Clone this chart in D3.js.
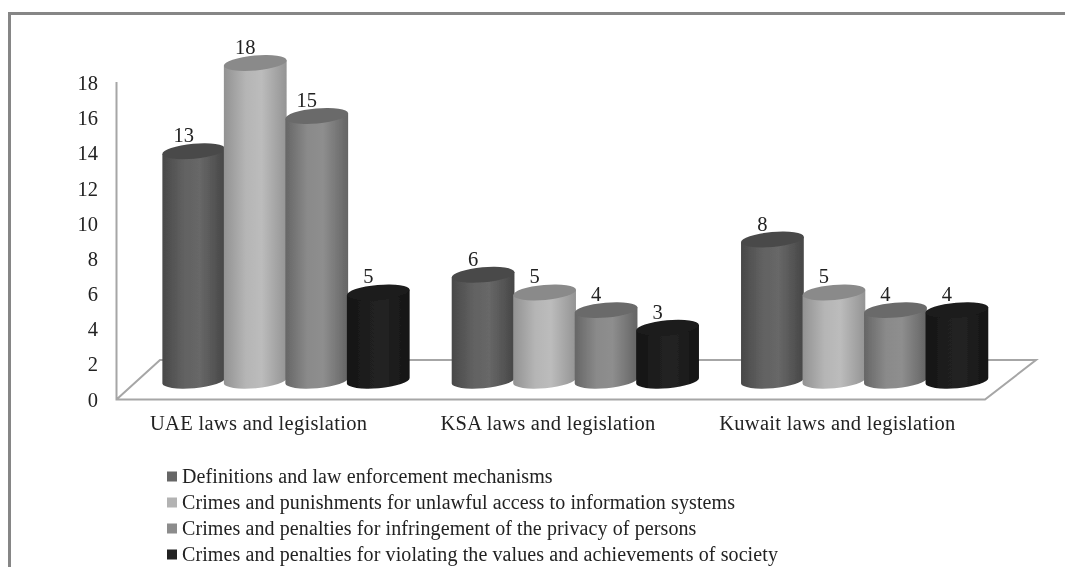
<!DOCTYPE html>
<html><head><meta charset="utf-8">
<script src="https://cdn.jsdelivr.net/npm/d3@7"></script>
<style>html,body{margin:0;padding:0;background:#fff}svg{display:block}text{font-family:"Liberation Serif",serif;fill:#222}</style>
</head><body><svg id="c" width="1065" height="567"></svg>
<script>
const categories=["UAE laws and legislation","KSA laws and legislation","Kuwait laws and legislation"];
const seriesNames=["Definitions and law enforcement mechanisms","Crimes and punishments for unlawful access to information systems","Crimes and penalties for infringement of the privacy of persons","Crimes and penalties for violating the values and achievements of society"];
const definitions=[13,6,8];
const unlawfulAccess=[18,5,5];
const privacy=[15,4,4];
const values=[5,3,4];
const series=[definitions,unlawfulAccess,privacy,values];
const tickValues=[0,2,4,6,8,10,12,14,16,18];
const shades=[
 {side:["#484848","#626262","#676767","#464646"],top:"#4a4a4a",key:"#666666"},
 {side:["#929292","#b5b5b5","#bcbcbc","#949494"],top:"#8a8a8a",key:"#b3b3b3"},
 {side:["#666666","#8a8a8a","#8e8e8e","#646464"],top:"#6a6a6a",key:"#8c8c8c"},
 {side:["#131313","#1f1f1f","#222222","#141414"],top:"#1b1b1b",key:"#222222"}];

const svg=d3.select("#c");
const defs=svg.append("defs");
defs.append("filter").attr("id","soft").attr("filterUnits","userSpaceOnUse").attr("x",0).attr("y",0).attr("width",1065).attr("height",567)
  .append("feGaussianBlur").attr("stdDeviation",0.5);
shades.forEach((s,i)=>{
  const g=defs.append("linearGradient").attr("id","g"+i);
  s.side.forEach((c,j)=>g.append("stop").attr("offset",[0,.35,.6,1][j]).attr("stop-color",c));
});
const root=svg.append("g").attr("filter","url(#soft)");

// frame
root.append("path").attr("d","M9.5,567V13.5H1065").attr("fill","none").attr("stroke","#868686").attr("stroke-width",3);

// scales
const yAxisScale=d3.scaleLinear().domain([0,18]).range([399.5,83]);
const yBar=d3.scaleLinear().domain([0,18]).range([380.7,63]);
const x0=d3.scaleBand().domain(categories).range([118,986]);
const x1=d3.scaleBand().domain(d3.range(4)).range([45,291]);

// floor + wall
const wall="#a6a6a6";
root.append("path").attr("d","M116.5,82V399.5H985L1036,360H160L116.5,399.5").attr("fill","none").attr("stroke",wall).attr("stroke-width",2);

// axis
const ax=root.append("g").attr("transform","translate(98,0)").call(d3.axisLeft(yAxisScale).tickValues(tickValues).tickSize(0).tickPadding(0));
ax.select(".domain").remove();
ax.selectAll("text").style("font-family","Liberation Serif").style("font-size","20.5px").attr("fill","#222");

// bars
const rx=31.5,ry=7.5,tilt=-5;
categories.forEach((cat,ci)=>{
  series.forEach((vals,si)=>{
    const v=vals[ci];
    const cx=x0(cat)+x1(si)+x1.bandwidth()/2;
    const yt=yBar(v),yb=yBar(0);
    const g=root.append("g").datum(v);
    const dy=rx*Math.sin(tilt*Math.PI/180);
    const a=rx*Math.cos(tilt*Math.PI/180);
    g.append("path").attr("fill",`url(#g${si})`)
      .attr("d",`M${cx-a},${yt-dy}L${cx+a},${yt+dy}L${cx+a},${yb+dy}A${rx},${ry} ${tilt} 0 1 ${cx-a},${yb-dy}Z`);
    g.append("ellipse").attr("cx",cx).attr("cy",yt).attr("rx",rx).attr("ry",ry)
      .attr("transform",`rotate(${tilt} ${cx} ${yt})`).attr("fill",shades[si].top);
    g.append("text").attr("x",cx-10).attr("y",yt-9).attr("text-anchor","middle").style("font-size","20.5px").text(v);
  });
  root.append("text").attr("x",x0(cat)+x0.bandwidth()/2-4).attr("y",430).attr("text-anchor","middle").style("font-size","20.5px").style("letter-spacing","0.3px").text(cat);
});

// legend
seriesNames.forEach((n,i)=>{
  const y=477+i*26;
  root.append("rect").attr("x",167).attr("y",y-5.5).attr("width",10).attr("height",10).attr("fill",shades[i].key);
  root.append("text").attr("x",182).attr("y",y+6).style("font-size","20px").style("letter-spacing","0.1px").text(n);
});
</script></body></html>
